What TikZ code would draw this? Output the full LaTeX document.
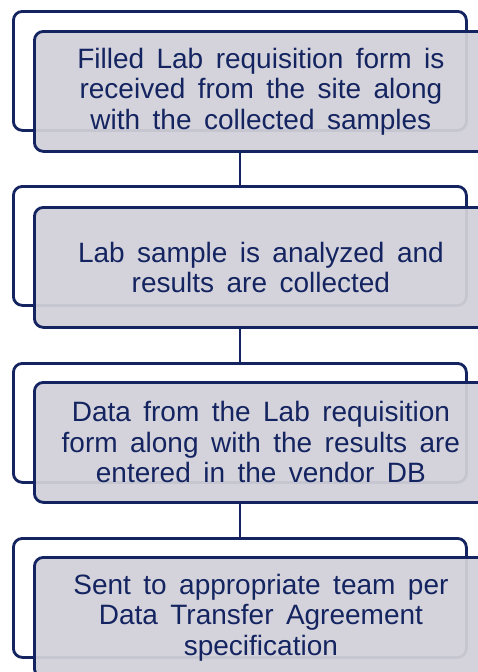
\documentclass[tikz,border=0pt]{standalone}
\usepackage{fontspec}
\setmainfont{Liberation Sans}[WordSpace=1.6]
\definecolor{navy}{RGB}{20,36,96}
\definecolor{boxgray}{RGB}{210,209,217}
\begin{document}
\begin{tikzpicture}[x=1pt,y=-1pt,
  backbox/.style={draw=navy, line width=2.8pt, rounded corners=9pt, fill=white,
    minimum width=453pt, minimum height=119pt, inner sep=0pt, anchor=north west},
  frontbox/.style={draw=navy, line width=2.8pt, rounded corners=9pt, fill=boxgray,
    fill opacity=0.94, text opacity=1, minimum width=453pt, minimum height=120pt,
    inner sep=0pt, anchor=north west, text=navy, align=center,
    font=\fontsize{28}{30.5}\selectfont},
  link/.style={draw=navy, line width=2.8pt}]
\useasboundingbox (0,0) rectangle (478,672);
\clip (0,0) rectangle (478,672);
\fill[white] (0,0) rectangle (478,672);
% back boxes
\node[backbox] (b1) at (12,10) {};
\node[backbox] (b2) at (12,185) {};
\node[backbox] (b3) at (12,362) {};
\node[backbox] (b4) at (12,537) {};
% front boxes
\node[frontbox] (f1) at (33,30) {Filled Lab requisition form is\\received from the site along\\with the collected samples};
\node[frontbox] (f2) at (33,206) {Lab sample is analyzed and\\results are collected};
\node[frontbox] (f3) at (33,381) {Data from the Lab requisition\\form along with the results are\\entered in the vendor DB};
\node[frontbox] (f4) at (33,556) {Sent to appropriate team per\\Data Transfer Agreement\\specification};
% connectors
\draw[link] (f1.south -| b2.north) -- (b2.north);
\draw[link] (f2.south -| b3.north) -- (b3.north);
\draw[link] (f3.south -| b4.north) -- (b4.north);
\end{tikzpicture}
\end{document}
